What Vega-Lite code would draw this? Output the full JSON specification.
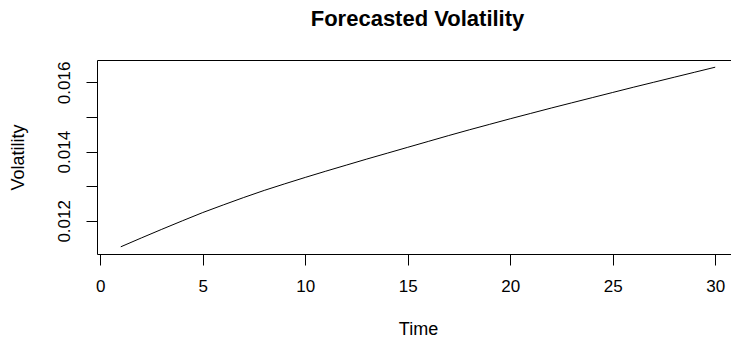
{
  "$schema": "https://vega.github.io/schema/vega-lite/v6.json",
  "width": 634,
  "height": 194,
  "autosize": {"type": "none"},
  "padding": {"left": 97, "top": 60, "right": 0, "bottom": 88},
  "background": "white",
  "config": {"view": {"stroke": null}, "font": "Liberation Sans"},
  "title": {"text": "Forecasted Volatility", "fontSize": 22, "fontWeight": "bold", "font": "Liberation Sans", "color": "#000", "anchor": "middle", "baseline": "alphabetic", "offset": 12, "dx": 3.5},
  "data": {"values": [
    {"Time": 1, "Volatility": 0.01125},
    {"Time": 2, "Volatility": 0.011505},
    {"Time": 3, "Volatility": 0.011755},
    {"Time": 4, "Volatility": 0.012},
    {"Time": 5, "Volatility": 0.01224},
    {"Time": 6, "Volatility": 0.01246},
    {"Time": 7, "Volatility": 0.012675},
    {"Time": 8, "Volatility": 0.01288},
    {"Time": 9, "Volatility": 0.01307},
    {"Time": 10, "Volatility": 0.013255},
    {"Time": 11, "Volatility": 0.013435},
    {"Time": 12, "Volatility": 0.01361},
    {"Time": 13, "Volatility": 0.013785},
    {"Time": 14, "Volatility": 0.013955},
    {"Time": 15, "Volatility": 0.014125},
    {"Time": 16, "Volatility": 0.014295},
    {"Time": 17, "Volatility": 0.014465},
    {"Time": 18, "Volatility": 0.01463},
    {"Time": 19, "Volatility": 0.01479},
    {"Time": 20, "Volatility": 0.01495},
    {"Time": 21, "Volatility": 0.015105},
    {"Time": 22, "Volatility": 0.01526},
    {"Time": 23, "Volatility": 0.01541},
    {"Time": 24, "Volatility": 0.01556},
    {"Time": 25, "Volatility": 0.01571},
    {"Time": 26, "Volatility": 0.01586},
    {"Time": 27, "Volatility": 0.016005},
    {"Time": 28, "Volatility": 0.01615},
    {"Time": 29, "Volatility": 0.016295},
    {"Time": 30, "Volatility": 0.01644}
  ]},
  "layer": [
    {
      "mark": {"type": "line", "color": "#000", "strokeWidth": 1},
      "encoding": {
        "x": {
          "field": "Time", "type": "quantitative",
          "scale": {"domain": [-0.16, 30.77], "nice": false, "zero": false},
          "axis": {
            "orient": "bottom", "values": [0, 5, 10, 15, 20, 25, 30], "title": "Time", "grid": false,
            "domainColor": "#000", "tickColor": "#000", "tickSize": 11,
            "labelFontSize": 17, "labelColor": "#000", "labelBaseline": "alphabetic", "labelPadding": 26, "labelFlush": false, "labelOverlap": false,
            "titleFontSize": 18, "titleFontWeight": "normal", "titleColor": "#000",
            "titleX": 321, "titleY": 75, "titleBaseline": "middle", "titleAlign": "center"
          }
        },
        "y": {
          "field": "Volatility", "type": "quantitative",
          "scale": {"domain": [0.011042, 0.016648], "nice": false, "zero": false},
          "axis": {
            "orient": "left", "values": [0.012, 0.013, 0.014, 0.015, 0.016], "format": ".3f",
            "labelExpr": "round(datum.value * 1000) % 2 == 0 ? datum.label : ''",
            "title": "Volatility", "grid": false,
            "domainColor": "#000", "tickColor": "#000", "tickSize": 11,
            "labelFontSize": 17, "labelColor": "#000", "labelAngle": 270, "labelAlign": "center", "labelBaseline": "alphabetic", "labelPadding": 17, "labelFlush": false, "labelOverlap": false,
            "titleFontSize": 18, "titleFontWeight": "normal", "titleColor": "#000", "titleAngle": 270,
            "titleX": -79, "titleY": 97, "titleBaseline": "middle", "titleAlign": "center"
          }
        }
      }
    },
    {
      "mark": {"type": "line", "opacity": 0},
      "encoding": {
        "x": {"field": "Time", "type": "quantitative", "axis": {"orient": "top", "labels": false, "ticks": false, "title": null, "grid": false, "domainColor": "#000"}},
        "y": {
          "field": "Volatility", "type": "quantitative",
          "axis": {
            "orient": "left", "values": [0.012, 0.013, 0.014, 0.015, 0.016], "format": ".3f",
            "labelExpr": "round(datum.value * 1000) % 2 == 0 ? datum.label : ''",
            "title": "Volatility", "grid": false,
            "domainColor": "#000", "tickColor": "#000", "tickSize": 11,
            "labelFontSize": 17, "labelColor": "#000", "labelAngle": 270, "labelAlign": "center", "labelBaseline": "alphabetic", "labelPadding": 17, "labelFlush": false, "labelOverlap": false,
            "titleFontSize": 18, "titleFontWeight": "normal", "titleColor": "#000", "titleAngle": 270,
            "titleX": -79, "titleY": 97, "titleBaseline": "middle", "titleAlign": "center"
          }
        }
      }
    }
  ],
  "resolve": {"axis": {"x": "independent"}}
}
